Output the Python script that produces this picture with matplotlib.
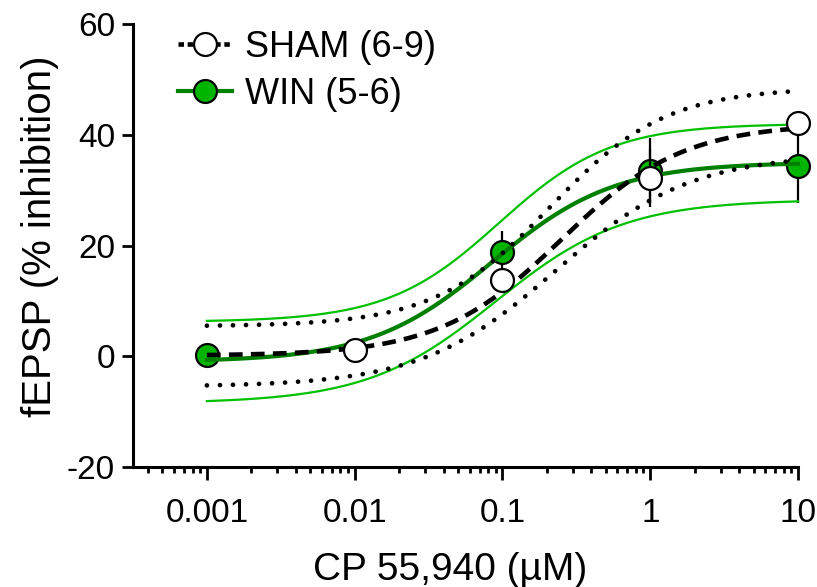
import numpy as np
import matplotlib
matplotlib.use("Agg")
import matplotlib.pyplot as plt
from matplotlib.lines import Line2D
from matplotlib.ticker import LogLocator, FixedLocator, NullFormatter

plt.rcParams['font.family'] = ['Liberation Sans', 'DejaVu Sans']

# ---- data ----
sham_x = [0.01, 0.1, 1, 10]
sham_y = [1.1, 13.7, 32.2, 42.1]
sham_err = [1.0, 2.0, 5.3, 2.0]

win_x = [0.001, 0.1, 1, 10]
win_y = [0.2, 18.75, 33.5, 34.4]
win_err = [0.0, 3.9, 6.0, 6.7]

# 4-parameter logistic fit curves: bottom, top, EC50, hill
sham_fit = [0.1, 42.0, 0.25, 1.05]
sham_upper = [5.4, 48.5, 0.21, 1.1]
sham_lower = [-5.5, 36.5, 0.23, 0.95]
win_fit = [-1.0, 35.0, 0.085, 1.05]
win_upper = [6.2, 42.0, 0.095, 1.15]
win_lower = [-8.5, 28.3, 0.09, 1.0]

x_ticks = [0.001, 0.01, 0.1, 1, 10]
x_ticklabels = ['0.001', '0.01', '0.1', '1', '10']
y_ticks = [-20, 0, 20, 40, 60]

def logistic(x, p):
    b, t, ec, h = p
    return b + (t - b) / (1.0 + (ec / x) ** h)

fig = plt.figure(figsize=(8.17, 5.87), dpi=100)
ax = fig.add_axes([0.1628, 0.2044, 0.814, 0.7547])

xs = np.logspace(-3, 1, 400)
band_green = '#00C000'
fit_green = '#008000'
mark_green = '#00B400'
dot_style = (0, (0.01, 2.75))
dash_style = (0, (3.0, 1.8))

# WIN markers and error bars (bottom layer)
ax.errorbar(win_x, win_y, yerr=win_err, fmt='none', ecolor='black', elinewidth=1.6,
            capsize=0, zorder=2, clip_on=False)
ax.plot(win_x, win_y, 'o', ms=16.5, mfc=mark_green, mec='black', mew=1.6, zorder=3, clip_on=False)

# WIN curves
ax.plot(xs, logistic(xs, win_upper), color=band_green, lw=1.6, zorder=4, clip_on=False)
ax.plot(xs, logistic(xs, win_lower), color=band_green, lw=1.6, zorder=4, clip_on=False)
ax.plot(xs, logistic(xs, win_fit), color=fit_green, lw=3.0, zorder=4, clip_on=False)

# SHAM curves
ax.plot(xs, logistic(xs, sham_upper), color='black', lw=3.4, ls=dot_style,
        dash_capstyle='round', zorder=5, clip_on=False)
ax.plot(xs, logistic(xs, sham_lower), color='black', lw=3.4, ls=dot_style,
        dash_capstyle='round', zorder=5, clip_on=False)
ax.plot(xs, logistic(xs, sham_fit), color='black', lw=3.3, ls=dash_style, zorder=5, clip_on=False)

# SHAM markers and error bars (top layer)
ax.errorbar(sham_x, sham_y, yerr=sham_err, fmt='none', ecolor='black', elinewidth=1.6,
            capsize=0, zorder=6, clip_on=False)
ax.plot(sham_x, sham_y, 'o', ms=16.5, mfc='white', mec='black', mew=1.6, zorder=7, clip_on=False)

ax.set_xscale('log')
ax.set_xlim(10 ** -3.5, 10)
ax.set_ylim(-20, 60)
ax.xaxis.set_major_locator(FixedLocator(x_ticks))
ax.set_xticklabels(x_ticklabels)
ax.xaxis.set_minor_locator(LogLocator(base=10, subs=np.arange(2, 10), numticks=20))
ax.xaxis.set_minor_formatter(NullFormatter())
ax.set_yticks(y_ticks)
ax.set_yticklabels([str(v) for v in y_ticks])

for s in ['top', 'right']:
    ax.spines[s].set_visible(False)
for s in ['left', 'bottom']:
    ax.spines[s].set_linewidth(2.2)
ax.tick_params(axis='both', which='major', length=8, width=2.0, labelsize=24, pad=5)
ax.tick_params(axis='x', which='minor', length=4.5, width=2.0)
ax.tick_params(axis='x', which='major', length=9, pad=13)

xl = ax.set_xlabel('CP 55,940 (µM)', fontsize=28)
xl.set_verticalalignment('baseline')
ax.xaxis.set_label_coords(0.477, -0.255)
yl = ax.set_ylabel('fEPSP (% inhibition)', fontsize=29)
yl.set_verticalalignment('center')
ax.yaxis.set_label_coords(-0.14, 0.521)

handles = [
    Line2D([], [], color='black', lw=3.3, ls=(0, (1.2, 0.8)), marker='o', ms=16.5,
           mfc='white', mec='black', mew=1.6),
    Line2D([], [], color=fit_green, lw=3.0, marker='o', ms=16.5,
           mfc=mark_green, mec='black', mew=1.6),
]
ax.legend(handles, ['SHAM (6-9)', 'WIN (5-6)'], loc='upper left',
          bbox_to_anchor=(0.019, 1.06), frameon=False, fontsize=26,
          handlelength=1.5, handletextpad=0.35, labelspacing=0.325)

fig.savefig('out.png', dpi=100)
